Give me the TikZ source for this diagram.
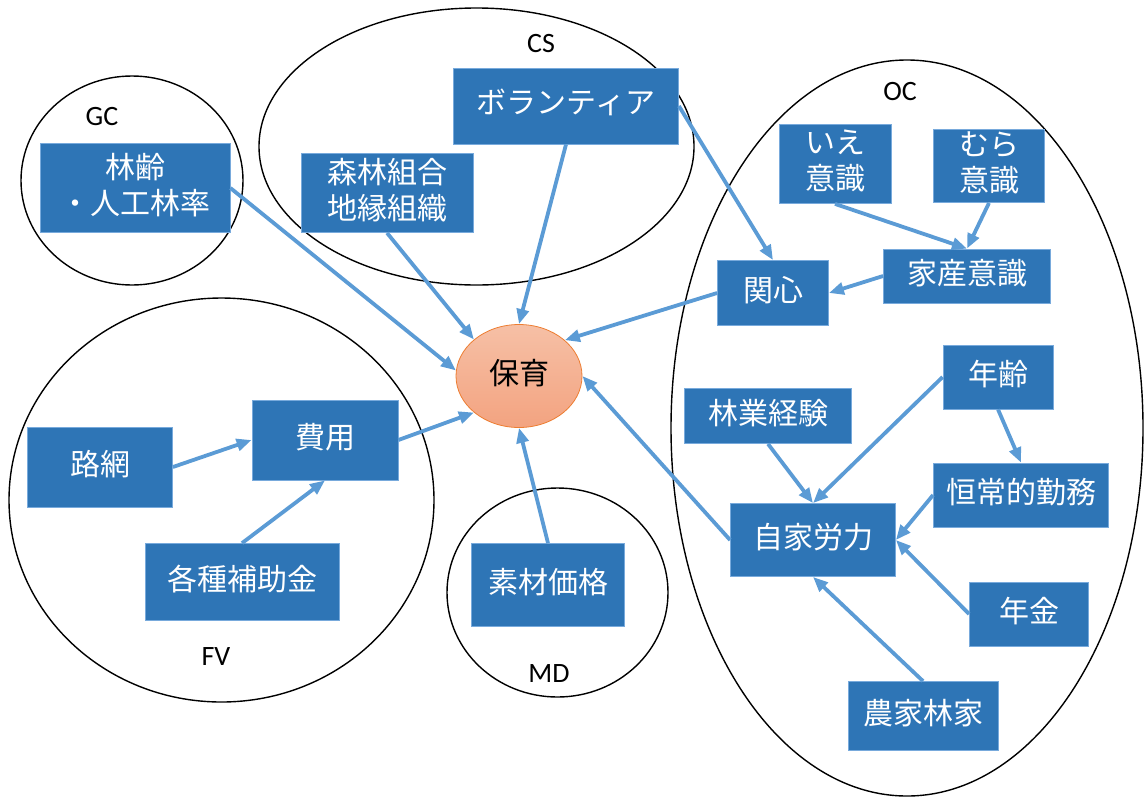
\documentclass[tikz,border=0pt]{standalone}
\usepackage{fontspec}
\setmainfont{Carlito}
\newfontfamily\jp{Noto Sans CJK JP}
\usetikzlibrary{arrows.meta,shapes.geometric}

\definecolor{boxblue}{RGB}{46,117,182}
\definecolor{boxedge}{RGB}{120,170,220}
\definecolor{arrowblue}{RGB}{91,155,213}
\definecolor{hoikutop}{RGB}{246,192,166}
\definecolor{hoikubot}{RGB}{243,163,128}
\definecolor{hoikuedge}{RGB}{237,125,49}

\tikzset{
	blk/.style={rectangle, fill=boxblue, draw=boxedge, line width=0.8pt, text=white, align=center, inner sep=0pt, text depth=9pt, font=\jp\fontsize{30}{36}\selectfont},
	hoikunode/.style={ellipse, minimum width=126pt, minimum height=103pt, inner sep=0pt, text depth=9pt, top color=hoikutop, bottom color=hoikubot, draw=hoikuedge, line width=0.8pt, font=\jp\fontsize{30}{36}\selectfont},
	grp/.style={draw=black, line width=1.4pt},
	lab/.style={font=\fontsize{28}{34}\selectfont},
	arr/.style={draw=arrowblue, line width=3.8pt, -{Triangle[length=15pt,width=12pt]}}
}

\begin{document}
\begin{tikzpicture}[x=1pt,y=-1pt]
			%%%%% START %%%%%
			\useasboundingbox (0,0) rectangle (1145,796);
			
			% groups
			\draw[grp] (132,180.5) ellipse (111 and 104.5);
			\draw[grp] (476.5,146.5) ellipse (217.5 and 138.5);
			\draw[grp] (907,428) ellipse (236 and 368);
			\draw[grp] (221.5,500) ellipse (212.5 and 202);
			\draw[grp] (557.5,592.5) ellipse (110.5 and 104.5);
			
			\node[lab] (gclab) at (102,117) {GC};
			\node[lab] (cslab) at (541,44) {CS};
			\node[lab] (oclab) at (900,92) {OC};
			\node[lab] (fvlab) at (216,657) {FV};
			\node[lab] (mdlab) at (549,674) {MD};
			
			% boxes
			\node[hoikunode] (hoiku) at (519,376) {保育};
			
			\node[blk, minimum width=190pt, minimum height=89pt] (rinrei) at (135,188) {林齢\\・人工林率};
			\node[blk, minimum width=172pt, minimum height=79pt] (kumiai) at (387,193) {森林組合\\地縁組織};
			\node[blk, minimum width=225pt, minimum height=76pt] (volun) at (566,106) {ボランティア};
			
			\node[blk, minimum width=112pt, minimum height=79pt] (ie) at (835,164) {いえ\\意識};
			\node[blk, minimum width=111pt, minimum height=73pt] (mura) at (989,166) {むら\\意識};
			\node[blk, minimum width=167pt, minimum height=54pt] (kasan) at (967,276) {家産意識};
			\node[blk, minimum width=111pt, minimum height=65pt] (kanshin) at (773,293) {関心};
			\node[blk, minimum width=110pt, minimum height=64pt] (nenrei) at (998,377) {年齢};
			\node[blk, minimum width=167pt, minimum height=55pt] (keiken) at (768,416) {林業経験};
			\node[blk, minimum width=175pt, minimum height=64pt] (kinmu) at (1021,495) {恒常的勤務};
			\node[blk, minimum width=165pt, minimum height=73pt] (jika) at (813,540) {自家労力};
			\node[blk, minimum width=119pt, minimum height=64pt] (nenkin) at (1029,614) {年金};
			\node[blk, minimum width=150pt, minimum height=69pt] (noka) at (923,716) {農家林家};
			
			\node[blk, minimum width=145pt, minimum height=80pt] (romo) at (100,467) {路網};
			\node[blk, minimum width=146pt, minimum height=80pt] (hiyo) at (325,440) {費用};
			\node[blk, minimum width=194pt, minimum height=77pt] (hojo) at (242,582) {各種補助金};
			\node[blk, minimum width=153pt, minimum height=83pt] (sozai) at (548,585) {素材価格};
			
			% arrows
			\draw[arr] (rinrei.east) -- (hoiku.175);
			\draw[arr] (kumiai.south) -- (hoiku.141);
			\draw[arr] (volun.south) -- (hoiku.north);
			\draw[arr] (volun.east) -- (kanshin.north);
			\draw[arr] (kanshin.west) -- (hoiku.38);
			
			\draw[arr] (ie.south) -- (kasan.north);
			\draw[arr] (mura.south) -- (kasan.north);
			\draw[arr] (kasan.west) -- (kanshin.east);
			
			\draw[arr] (nenrei.west) -- (jika.north);
			\draw[arr] (nenrei.south) -- (kinmu.north);
			\draw[arr] (keiken.south) -- (jika.north);
			\draw[arr] (kinmu.west) -- (jika.east);
			\draw[arr] (nenkin.west) -- (jika.east);
			\draw[arr] (noka.north) -- (jika.south);
			\draw[arr] (jika.west) -- (hoiku.east);
			
			\draw[arr] (romo.east) -- (hiyo.west);
			\draw[arr] (hojo.north) -- (hiyo.south);
			\draw[arr] (hiyo.east) -- (hoiku.219);
			\draw[arr] (sozai.north) -- (hoiku.south);
			
			%%%%% END %%%%%
\end{tikzpicture}
\end{document}
